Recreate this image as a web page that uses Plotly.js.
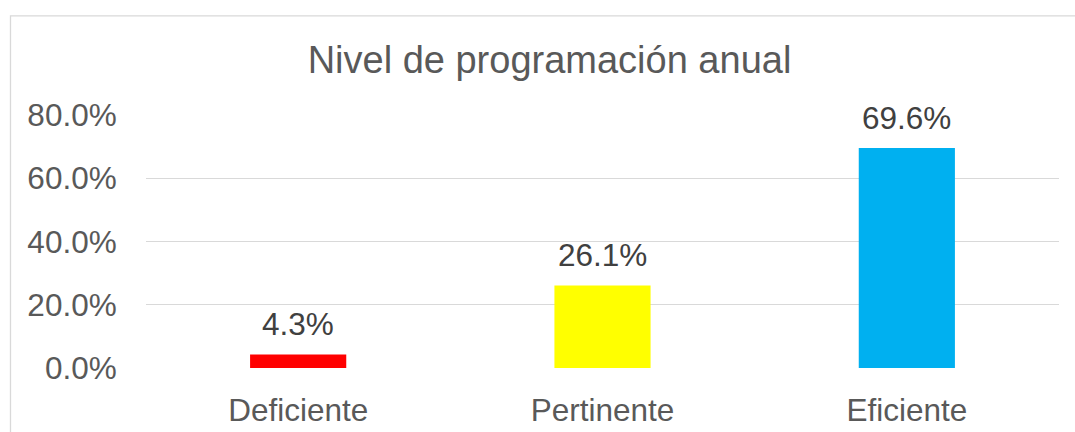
<!DOCTYPE html>
<html>
<head>
<meta charset="utf-8">
<script src="https://cdn.plot.ly/plotly-3.0.1.min.js"></script>
<style>html,body{margin:0;padding:0;background:#fff;}#chart{width:1075px;height:432px;}</style>
</head>
<body>
<div id="chart"></div>
<script>
var categories = ["Deficiente", "Pertinente", "Eficiente"];
var values = [0.043, 0.261, 0.696];
var valueLabels = ["4.3%", "26.1%", "69.6%"];
var barColors = ["#FF0000", "#FFFF00", "#00B0F0"];
var yTickVals = [0, 0.2, 0.4, 0.6, 0.8];
var yTickText = ["0.0%", "20.0%", "40.0%", "60.0%", "80.0%"];
var chartTitle = "Nivel de programación anual";

var plotL = 146, plotR = 1059, plotT = 114.7, plotB = 368;
var W = 1075, H = 432;
var pw = plotR - plotL, ph = plotB - plotT;

var trace = {
  type: "bar",
  x: categories,
  y: values,
  marker: {color: barColors, line: {width: 0}},
  hoverinfo: "none"
};

var annotations = categories.map(function (c, i) {
  return {
    x: c, y: values[i], xref: "x", yref: "y",
    text: valueLabels[i], showarrow: false,
    yanchor: "bottom", yshift: 10,
    font: {family: "Liberation Sans, Arial, sans-serif", size: 31.5, color: "#404040"}
  };
});

var layout = {
  width: W, height: H,
  margin: {l: plotL, r: W - plotR, t: plotT, b: H - plotB, pad: 0},
  paper_bgcolor: "#ffffff", plot_bgcolor: "#ffffff",
  showlegend: false,
  bargap: 0.684,
  font: {family: "Liberation Sans, Arial, sans-serif", color: "#595959"},
  title: {
    text: chartTitle,
    font: {family: "Liberation Sans, Arial, sans-serif", size: 38, color: "#595959"},
    xref: "container", x: 549.5 / W, xanchor: "center",
    yref: "container", y: 1 - 73 / H, yanchor: "bottom", pad: {t: 0, b: 0}
  },
  xaxis: {
    type: "category",
    showgrid: false, zeroline: false, showline: false,
    ticks: "outside", ticklen: 14, tickcolor: "rgba(0,0,0,0)",
    tickfont: {size: 31.5, color: "#595959"},
    fixedrange: true
  },
  yaxis: {
    range: [0, 0.8],
    tickvals: yTickVals, ticktext: yTickText,
    showgrid: true, gridcolor: "#D9D9D9", gridwidth: 1.3,
    zeroline: false, showline: false,
    ticks: "outside", ticklen: 22, tickcolor: "rgba(0,0,0,0)",
    tickfont: {size: 31.5, color: "#595959"},
    fixedrange: true
  },
  annotations: annotations,
  shapes: [{
    type: "rect", xref: "paper", yref: "paper", layer: "below",
    x0: (10.5 - plotL) / pw, x1: (W + 20 - plotL) / pw,
    y0: (plotB - H - 20) / ph, y1: (plotB - 15.5) / ph,
    line: {color: "#D9D9D9", width: 1.3}, fillcolor: "rgba(0,0,0,0)"
  }]
};

Plotly.newPlot("chart", [trace], layout, {displayModeBar: false, staticPlot: true});
</script>
</body>
</html>
